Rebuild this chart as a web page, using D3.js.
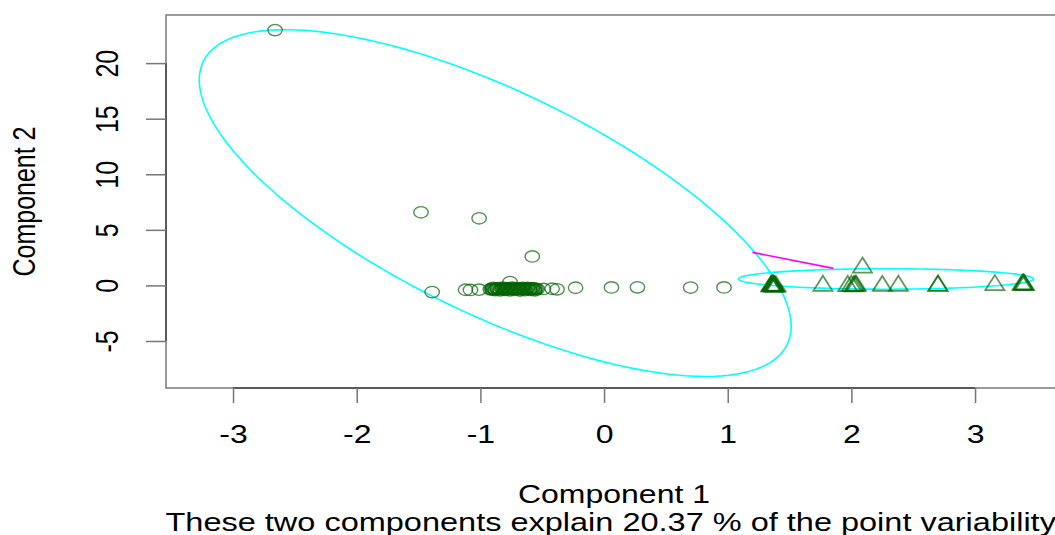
<!DOCTYPE html>
<html>
<head>
<meta charset="utf-8">
<script src="https://cdn.jsdelivr.net/npm/d3@7"></script>
<style>
  body { margin: 0; background: #fff; }
  text { font-family: "Liberation Sans", Arial, Helvetica, sans-serif; fill: #000; }
</style>
</head>
<body>
<svg id="chart" width="1055" height="535"></svg>
<script>
// ======================
// DATA
// ======================

// cluster 1 (circles): component 1 / component 2
const cluster1X = [-2.66, -1.48, -1.01, -0.58, -1.39, -1.12, -1.08, -1.01,
    -0.92, -0.91, -0.90, -0.89, -0.88, -0.87, -0.86, -0.85, -0.84, -0.83,
    -0.82, -0.81, -0.80, -0.79, -0.78, -0.77, -0.76, -0.75, -0.74, -0.73,
    -0.72, -0.71, -0.70, -0.69, -0.68, -0.67, -0.66, -0.65, -0.64, -0.63,
    -0.62, -0.61, -0.60, -0.59, -0.58, -0.57, -0.56, -0.55, -0.54,
    -0.90, -0.86, -0.82, -0.78, -0.74, -0.70, -0.66, -0.62, -0.58,
    -0.88, -0.84, -0.80, -0.76, -0.72, -0.68, -0.64, -0.60, -0.56, -0.76,
    -0.49, -0.42, -0.38, -0.23, 0.06, 0.27, 0.70, 0.97];
const cluster1Y = [22.97, 6.58, 6.04, 2.61, -0.60, -0.39, -0.41, -0.38,
    -0.35, -0.33, -0.36, -0.30, -0.34, -0.28, -0.32, -0.30, -0.36, -0.29,
    -0.33, -0.31, -0.35, -0.30, -0.32, -0.28, -0.34, -0.31, -0.30, -0.33,
    -0.29, -0.31, -0.32, -0.30, -0.35, -0.27, -0.33, -0.30, -0.34, -0.29,
    -0.31, -0.33, -0.30, -0.28, -0.32, -0.35, -0.30, -0.31, -0.33,
    -0.22, -0.25, -0.20, -0.24, -0.21, -0.26, -0.22, -0.23, -0.25,
    -0.42, -0.45, -0.40, -0.44, -0.41, -0.46, -0.43, -0.40, -0.44, 0.30,
    -0.32, -0.30, -0.35, -0.21, -0.18, -0.17, -0.19, -0.18];

// cluster 2 (triangles)
const cluster2X = [1.35, 1.36, 1.37, 1.37, 1.38, 1.36, 1.38, 1.37, 1.35, 1.39,
    1.77, 1.97, 2.00, 2.02, 2.04, 2.03, 2.09, 2.25, 2.38, 2.70, 2.70, 3.16,
    3.38, 3.39, 3.40, 3.39];
const cluster2Y = [0.05, 0.08, 0.03, 0.10, 0.06, 0.12, 0.02, 0.07, 0.09, 0.04,
    0.10, 0.08, 0.10, 0.06, 0.09, 0.12, 1.74, 0.09, 0.10, 0.12, 0.10, 0.16,
    0.18, 0.20, 0.17, 0.22];

// cluster ellipses: centre, half-extents, correlation
const ellipseCX = [-0.88, 2.28];
const ellipseCY = [7.41, 0.58];
const ellipseSX = [2.393, 1.193];
const ellipseSY = [15.6, 0.92];
const ellipseRho = [-0.71, 0.0];

// segment joining the two ellipses
const linkX = [1.20, 1.855];
const linkY = [2.97, 1.53];

const xTicks = [-3, -2, -1, 0, 1, 2, 3];
const yTicks = [-5, 0, 5, 10, 15, 20];
const xDomain = [-3.542, 3.703];
const yDomain = [-9.23, 24.33];

const xLabel = "Component 1";
const yLabel = "Component 2";
const subTitle = "These two components explain 20.37 % of the point variability.";

// ======================
// SETUP
// ======================

const svg = d3.select("#chart");
const margin = { top: 15, left: 166 };
const innerW = 896;
const innerH = 373;
const stretch = 1.28; // picture is wider than tall

const g = svg.append("g")
    .attr("transform", `translate(${margin.left},${margin.top})`);

const x = d3.scaleLinear().domain(xDomain).range([0, innerW]);
const y = d3.scaleLinear().domain(yDomain).range([innerH, 0]);

svg.append("clipPath").attr("id", "plotclip")
    .append("rect").attr("width", innerW).attr("height", innerH);

// frame
g.append("rect")
    .attr("width", innerW)
    .attr("height", innerH)
    .attr("fill", "none")
    .attr("stroke", "#7a7a7a")
    .attr("stroke-width", 1.5);

// axes
const xAxisG = g.append("g")
    .attr("transform", `translate(0,${innerH})`)
    .call(d3.axisBottom(x).tickValues(xTicks).tickSize(15).tickSizeOuter(0));
xAxisG.select(".domain")
    .attr("d", `M${x(xTicks[0])},0H${x(xTicks[xTicks.length - 1])}`)
    .attr("stroke", "#444").attr("stroke-width", 1.5);
xAxisG.selectAll(".tick line").attr("stroke", "#777").attr("stroke-width", 1.5);
xAxisG.selectAll(".tick text")
    .attr("y", 55).attr("dy", null)
    .attr("font-size", 25)
    .attr("transform", `scale(${stretch},1)`)
    .attr("x", 0)
    .text(d => String(d));

const yAxisG = g.append("g")
    .call(d3.axisLeft(y).tickValues(yTicks).tickSize(20).tickSizeOuter(0));
yAxisG.select(".domain")
    .attr("d", `M0,${y(yTicks[0])}V${y(yTicks[yTicks.length - 1])}`)
    .attr("stroke", "#444").attr("stroke-width", 1.5);
yAxisG.selectAll(".tick line").attr("stroke", "#777").attr("stroke-width", 1.5);
yAxisG.selectAll(".tick text")
    .attr("x", 0).attr("y", 0).attr("dy", null)
    .attr("font-size", 25)
    .attr("text-anchor", "middle")
    .attr("transform", `translate(-48,0) scale(${stretch},1) rotate(-90)`)
    .text(d => String(d));

// axis labels
g.append("text")
    .attr("transform", `translate(${innerW / 2},${503 - margin.top}) scale(${stretch},1)`)
    .attr("text-anchor", "middle")
    .attr("font-size", 25)
    .text(xLabel);

g.append("text")
    .attr("transform", `translate(${innerW / 2},${531 - margin.top}) scale(1.30,1)`)
    .attr("text-anchor", "middle")
    .attr("font-size", 25)
    .text(subTitle);

svg.append("text")
    .attr("transform", `translate(35,${margin.top + innerH / 2}) scale(${stretch},1) rotate(-90)`)
    .attr("text-anchor", "middle")
    .attr("font-size", 25)
    .text(yLabel);

// ======================
// ELLIPSES & MARKS
// ======================

const plot = g.append("g").attr("clip-path", "url(#plotclip)");

const angles = d3.range(0, 361, 2).map(a => a * Math.PI / 180);
const ellipseLine = d3.line().curve(d3.curveLinearClosed);

ellipseCX.forEach((cx, i) => {
    const pts = angles.map(t => {
        const dx = ellipseSX[i] * Math.cos(t);
        const dy = ellipseSY[i] * (ellipseRho[i] * Math.cos(t) +
            Math.sqrt(1 - ellipseRho[i] * ellipseRho[i]) * Math.sin(t));
        return [x(cx + dx), y(ellipseCY[i] + dy)];
    });
    plot.append("path")
        .attr("d", ellipseLine(pts))
        .attr("fill", "none")
        .attr("stroke", "#00ffff")
        .attr("stroke-width", 1.6);
});

plot.append("line")
    .attr("x1", x(linkX[0])).attr("y1", y(linkY[0]))
    .attr("x2", x(linkX[1])).attr("y2", y(linkY[1]))
    .attr("stroke", "#ff00ff")
    .attr("stroke-width", 1.6);

const circlePts = cluster1X.map((v, i) => ({ x: v, y: cluster1Y[i] }));
const triPts = cluster2X.map((v, i) => ({ x: v, y: cluster2Y[i] }));

plot.selectAll(".c1")
    .data(circlePts)
    .enter()
    .append("ellipse")
    .attr("class", "c1")
    .attr("cx", d => x(d.x))
    .attr("cy", d => y(d.y))
    .attr("rx", 7.2)
    .attr("ry", 5.7)
    .attr("fill", "none")
    .attr("stroke", "#006400")
    .attr("stroke-opacity", 0.7)
    .attr("stroke-width", 1.4);

plot.selectAll(".c2")
    .data(triPts)
    .enter()
    .append("path")
    .attr("class", "c2")
    .attr("transform", d => `translate(${x(d.x)},${y(d.y)})`)
    .attr("d", "M0,-8.5L9.5,6.5L-9.5,6.5Z")
    .attr("fill", "none")
    .attr("stroke", "#006400")
    .attr("stroke-opacity", 0.65)
    .attr("stroke-width", 1.8);
</script>
</body>
</html>
